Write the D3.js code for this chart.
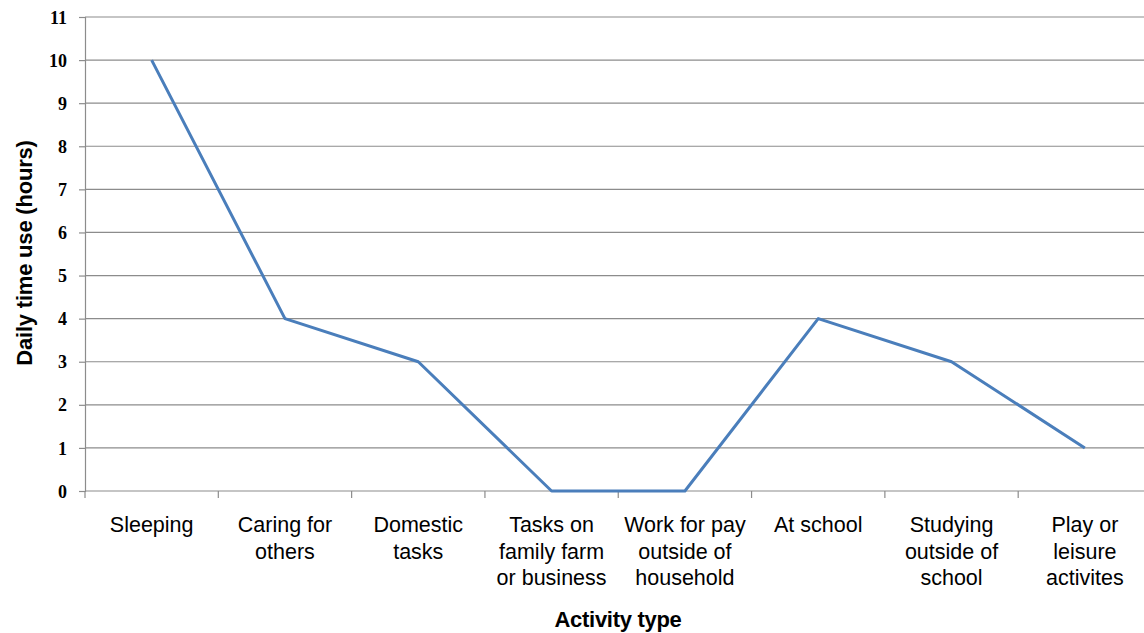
<!DOCTYPE html>
<html><head><meta charset="utf-8">
<script src="https://cdn.jsdelivr.net/npm/d3@7"></script>
<style>body{margin:0;background:#fff}svg{display:block}</style>
</head><body>
<script>
const categories = [
  ["Sleeping"],
  ["Caring for","others"],
  ["Domestic","tasks"],
  ["Tasks on","family farm","or business"],
  ["Work for pay","outside of","household"],
  ["At school"],
  ["Studying","outside of","school"],
  ["Play or","leisure","activites"]
];
const hours = [10, 4, 3, 0, 0, 4, 3, 1];
const yTicks = [0,1,2,3,4,5,6,7,8,9,10,11];

const W = 1144, H = 633;
const svg = d3.select("body").append("svg").attr("width", W).attr("height", H);
const idx = categories.map((d,i)=>i);
const x = d3.scaleBand().domain(idx).range([85, 1151.5]).padding(0);
const y = d3.scaleLinear().domain([0, 11]).range([491, 17]);

// gridlines
svg.append("g").selectAll("line").data(yTicks.filter(t=>t>0)).join("line")
  .attr("x1", 85).attr("x2", W).attr("y1", d=>y(d)).attr("y2", d=>y(d))
  .attr("stroke", "#8c8c8c").attr("stroke-width", 1.2);

// y axis
const yAxis = svg.append("g").attr("transform", "translate(85,0)")
  .call(d3.axisLeft(y).tickValues(yTicks).tickSize(6).tickPadding(12));
yAxis.select(".domain").attr("stroke", "#8c8c8c").attr("stroke-width", 1.2);
yAxis.selectAll(".tick line").attr("stroke", "#8c8c8c").attr("stroke-width", 1.2);
yAxis.selectAll(".tick text").attr("font-family", "Liberation Serif, Times New Roman, serif")
  .attr("font-weight", "bold").attr("font-size", 18).attr("fill", "#000").attr("dy", "0.34em");

// x axis
const xAxis = svg.append("g").attr("transform", "translate(0,491)");
xAxis.append("line").attr("x1", 85).attr("x2", W).attr("y1", 0).attr("y2", 0)
  .attr("stroke", "#8c8c8c").attr("stroke-width", 1.2);
xAxis.selectAll("line.tk").data(idx).join("line").attr("class","tk")
  .attr("x1", d=>x(d)).attr("x2", d=>x(d)).attr("y1", 0).attr("y2", 7)
  .attr("stroke", "#8c8c8c").attr("stroke-width", 1.2);
const lbl = xAxis.selectAll("text.cat").data(idx).join("text").attr("class","cat")
  .attr("text-anchor", "middle")
  .attr("font-family", "Liberation Sans, Arial, sans-serif").attr("font-size", 21.5).attr("fill", "#000");
lbl.each(function(d){
  const t = d3.select(this);
  categories[d].forEach((s,j)=>{
    t.append("tspan").attr("x", x(d) + x.bandwidth()/2).attr("y", 41 + j*26.5).text(s);
  });
});

// line
const line = d3.line().x((d,i)=>x(i)+x.bandwidth()/2).y(d=>y(d));
svg.append("path").datum(hours).attr("d", line).attr("fill","none")
  .attr("stroke", "#4a7ebb").attr("stroke-width", 3).attr("stroke-linejoin","round");

// axis titles
svg.append("text").attr("x", 618).attr("y", 627).attr("text-anchor","middle")
  .attr("font-family", "Liberation Sans, Arial, sans-serif").attr("font-weight","bold")
  .attr("font-size", 22).attr("letter-spacing", -0.3).text("Activity type");
svg.append("text").attr("transform", "translate(32,253) rotate(-90)").attr("text-anchor","middle")
  .attr("font-family", "Liberation Sans, Arial, sans-serif").attr("font-weight","bold")
  .attr("font-size", 22).attr("letter-spacing", -0.2).text("Daily time use (hours)");
</script>
</body></html>
